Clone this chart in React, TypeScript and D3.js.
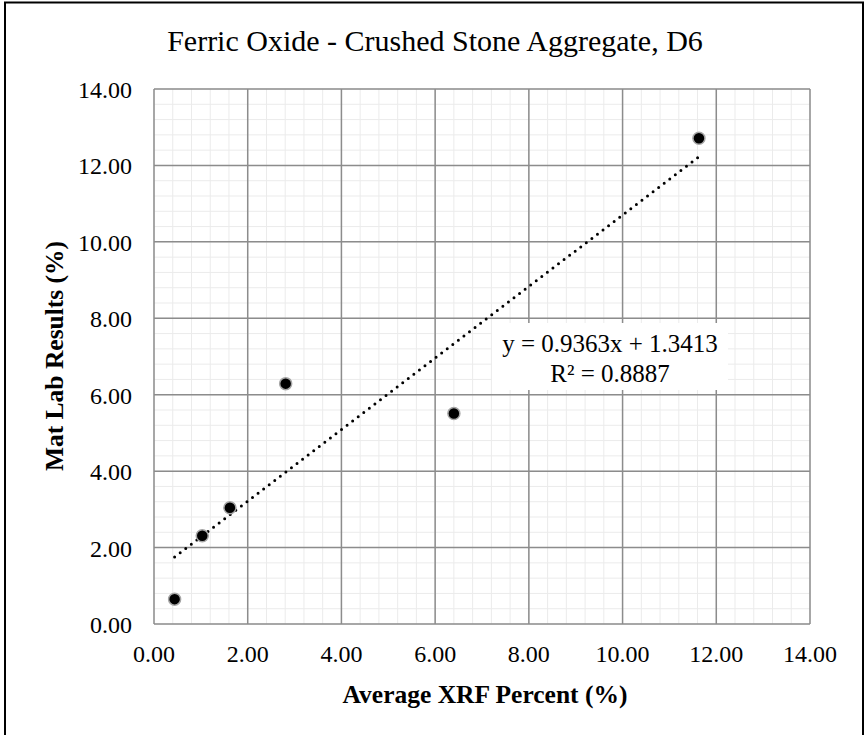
import React from "react";
import * as d3 from "d3";

const xrf = [0.44, 1.03, 1.62, 2.81, 6.4, 11.63];
const matlab = [0.65, 2.31, 3.04, 6.29, 5.51, 12.71];
const slope = 0.9363;
const intercept = 1.3413;
const rSquared = 0.8887;
const xTicks = [0, 2, 4, 6, 8, 10, 12, 14];
const yTicks = [0, 2, 4, 6, 8, 10, 12, 14];
const title = "Ferric Oxide - Crushed Stone Aggregate, D6";
const xTitle = "Average XRF Percent (%)";
const yTitle = "Mat Lab Results (%)";

const W = 866, H = 735;
const L = 154, R = 810, T = 89, B = 624;
const font = "'Liberation Serif', 'Times New Roman', serif";

export default function App() {
  const x = d3.scaleLinear().domain([0, 14]).range([L, R]);
  const y = d3.scaleLinear().domain([0, 14]).range([B, T]);
  const minor = d3.range(0, 14.0001, 0.4);
  const xs = [d3.min(xrf)!, d3.max(xrf)!];
  const line = d3.line<number>().x((d) => x(d)).y((d) => y(slope * d + intercept));
  return (
    <svg width={W} height={H} style={{ position: "absolute", left: 0, top: 0, background: "#fff" }}>
      <rect x={0} y={0} width={W} height={H} fill="#fff" />
      <rect x={5} y={2.5} width={858} height={H + 10} fill="none" stroke="#000" strokeWidth={2} />
      <text x={435} y={51} textAnchor="middle" fontFamily={font} fontSize={30}>{title}</text>
      <g>
        {minor.map((v, i) => (
          <line key={"mx" + i} x1={x(v)} x2={x(v)} y1={T} y2={B} stroke="#ebebeb" strokeWidth={1} />
        ))}
        {minor.map((v, i) => (
          <line key={"my" + i} y1={y(v)} y2={y(v)} x1={L} x2={R} stroke="#ebebeb" strokeWidth={1} />
        ))}
        {xTicks.map((v) => (
          <line key={"gx" + v} x1={x(v)} x2={x(v)} y1={T} y2={B} stroke="#8c8c8c" strokeWidth={1.5} />
        ))}
        {yTicks.map((v) => (
          <line key={"gy" + v} y1={y(v)} y2={y(v)} x1={L} x2={R} stroke="#8c8c8c" strokeWidth={1.5} />
        ))}
      </g>
      {xTicks.map((v) => (
        <text key={"tx" + v} x={x(v)} y={662} textAnchor="middle" fontFamily={font} fontSize={24}>
          {v.toFixed(2)}
        </text>
      ))}
      {yTicks.map((v) => (
        <text key={"ty" + v} x={132} y={y(v) + 9} textAnchor="end" fontFamily={font} fontSize={24}>
          {v.toFixed(2)}
        </text>
      ))}
      <text x={485} y={703} textAnchor="middle" fontFamily={font} fontSize={25.5} fontWeight="bold">{xTitle}</text>
      <text transform={`translate(63,356) rotate(-90)`} textAnchor="middle" fontFamily={font} fontSize={25.5} fontWeight="bold">{yTitle}</text>
      <path d={line(xs) || ""} fill="none" stroke="#000" strokeWidth={3} strokeDasharray="0 7" strokeLinecap="round" />
      {xrf.map((v, i) => (
        <circle key={"p" + i} cx={x(v)} cy={y(matlab[i])} r={6} fill="#000" stroke="#a6a6a6" strokeWidth={1.5} />
      ))}
      <rect x={492} y={323} width={236} height={67} fill="#fff" />
      <text x={610} y={352} textAnchor="middle" fontFamily={font} fontSize={25}>
        {`y = ${slope}x + ${intercept}`}
      </text>
      <text x={610} y={382} textAnchor="middle" fontFamily={font} fontSize={25}>
        {`R² = ${rSquared}`}
      </text>
    </svg>
  );
}
